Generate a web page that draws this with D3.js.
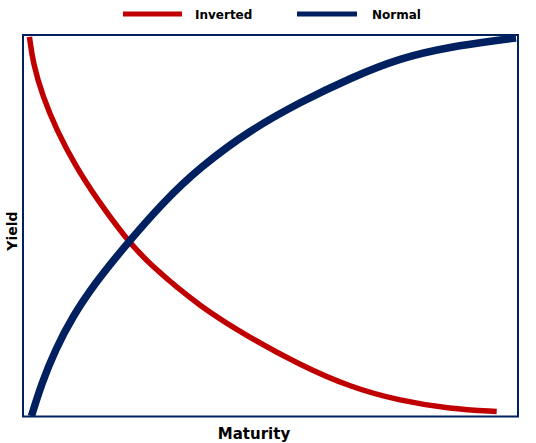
<!DOCTYPE html>
<html>
<head>
<meta charset="utf-8">
<script src="https://cdn.jsdelivr.net/npm/d3@7"></script>
<style>
  html, body { margin: 0; padding: 0; background: #fff; }
  svg { display: block; }
  text { font-family: "DejaVu Sans", Verdana, sans-serif; font-weight: bold; fill: #000; }
</style>
</head>
<body>
<div id="chart"></div>
<script>
// yield curve shapes (maturity 0-100, yield 0-100)
var seriesNames = ["Inverted", "Normal"];
var seriesColors = ["#C00000", "#002060"];

var invertedMaturity = [1.3, 2.0, 4.0, 6.8, 10.5, 14.9, 21.0, 25.7, 35.8, 45.9, 56.0, 66.1, 76.2, 86.3, 95.7];
var invertedYield    = [99.5, 92.7, 83.8, 75.1, 65.9, 57.0, 46.3, 39.7, 28.7, 20.6, 13.5, 7.7, 4.1, 2.0, 1.3];

var normalMaturity = [1.7, 3.8, 6.5, 10.0, 14.6, 19.9, 28.3, 35.8, 45.9, 56.0, 66.1, 76.2, 86.3, 96.4, 99.6];
var normalYield    = [0.1, 8.8, 17.4, 26.2, 35.0, 43.6, 56.2, 65.4, 75.1, 82.4, 88.7, 94.0, 96.9, 98.7, 99.2];

var width = 536;
var height = 443;
var plotLeft = 23, plotRight = 518, plotTop = 35, plotBottom = 416.5;

var svg = d3.select("#chart")
    .append("svg")
    .attr("width", width)
    .attr("height", height);

var x = d3.scaleLinear().domain([0, 100]).range([plotLeft, plotRight]);
var y = d3.scaleLinear().domain([0, 100]).range([plotBottom, plotTop]);

var line = d3.line()
    .x(function (d) { return x(d[0]); })
    .y(function (d) { return y(d[1]); })
    .curve(d3.curveBasis);

var series = [
    { name: seriesNames[0], color: seriesColors[0], width: 5.5, points: d3.zip(invertedMaturity, invertedYield) },
    { name: seriesNames[1], color: seriesColors[1], width: 7.5, points: d3.zip(normalMaturity, normalYield) }
];

svg.selectAll("path.curve")
    .data(series)
    .enter()
    .append("path")
    .attr("class", "curve")
    .attr("d", function (d) { return line(d.points); })
    .attr("fill", "none")
    .attr("stroke", function (d) { return d.color; })
    .attr("stroke-width", function (d) { return d.width; });

// plot frame
svg.append("rect")
    .attr("x", plotLeft)
    .attr("y", plotTop)
    .attr("width", plotRight - plotLeft)
    .attr("height", plotBottom - plotTop)
    .attr("fill", "none")
    .attr("stroke", "#002060")
    .attr("stroke-width", 2);

// legend
var legendX = [123, 297];
var legend = svg.selectAll(".legend")
    .data(series)
    .enter()
    .append("g")
    .attr("class", "legend")
    .attr("transform", function (d, i) { return "translate(" + legendX[i] + ",14)"; });

legend.append("line")
    .attr("x1", 0)
    .attr("x2", function (d, i) { return i === 0 ? 59 : 60; })
    .attr("stroke", function (d) { return d.color; })
    .attr("stroke-width", 5);

legend.append("text")
    .attr("x", function (d, i) { return i === 0 ? 72 : 75; })
    .attr("y", 4.5)
    .attr("font-size", "12px")
    .text(function (d) { return d.name; });

// axis titles
svg.append("text")
    .attr("x", 254)
    .attr("y", 439)
    .attr("text-anchor", "middle")
    .attr("font-size", "15px")
    .text("Maturity");

svg.append("text")
    .attr("transform", "translate(17,231) rotate(-90)")
    .attr("text-anchor", "middle")
    .attr("font-size", "14px")
    .text("Yield");
</script>
</body>
</html>
